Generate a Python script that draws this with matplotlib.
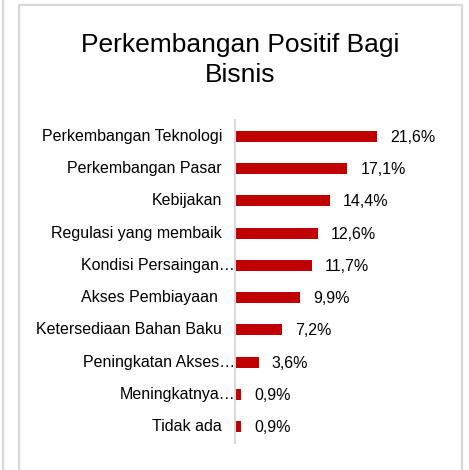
import matplotlib
matplotlib.use("Agg")
import matplotlib.pyplot as plt
from matplotlib.patches import Rectangle
from matplotlib.lines import Line2D

plt.rcParams['font.family'] = ['Liberation Sans', 'DejaVu Sans']

# data, top to bottom
categories = ["Perkembangan Teknologi", "Perkembangan Pasar", "Kebijakan",
              "Regulasi yang membaik", "Kondisi Persaingan\u2026", "Akses Pembiayaan ",
              "Ketersediaan Bahan Baku", "Peningkatan Akses\u2026", "Meningkatnya\u2026",
              "Tidak ada"]
values = [21.6, 17.1, 14.4, 12.6, 11.7, 9.9, 7.2, 3.6, 0.9, 0.9]
value_labels = ["21,6%", "17,1%", "14,4%", "12,6%", "11,7%", "9,9%", "7,2%", "3,6%", "0,9%", "0,9%"]

W, H = 469, 470
fig = plt.figure(figsize=(W / 100, H / 100), dpi=100)
fig.patch.set_facecolor('white')

# chart frame and neighbouring panel edge
fig.add_artist(Rectangle((18.5 / W, -0.05), (461.5 - 18.5) / W, 1.05 - 4.5 / H,
                         transform=fig.transFigure, fill=False,
                         edgecolor='#D9D9D9', linewidth=1.6))
fig.add_artist(Line2D([2.5 / W, 2.5 / W], [0, 1], transform=fig.transFigure,
                      color='#D9D9D9', linewidth=1.6))

fig.text(240 / W, 1 - 45 / H, "Perkembangan Positif Bagi", ha='center', va='center',
         fontsize=19, color='#000000')
fig.text(240 / W, 1 - 75 / H, "Bisnis", ha='center', va='center',
         fontsize=19, color='#000000')

# axes: x from 235 px, 6.57 px per percent
left = 235 / W
top = 1 - 120 / H
bottom = 1 - 443 / H
ax = fig.add_axes([left, bottom, (461 - 235) / W, top - bottom])
xmax = (461 - 235) / 6.57
ax.set_xlim(0, xmax)
n = len(categories)
ax.set_ylim(n - 0.5, -0.5)
pos = list(range(n))
ax.barh(pos, values, height=0.34, color='#C00000')
for y, v, lab in zip(pos, values, value_labels):
    ax.annotate(lab, (v, y), xytext=(13, -1), textcoords='offset pixels',
                ha='left', va='center', fontsize=11.5, color='#000000')
# category labels: truncated ones run up to the axis line
for y, cat in zip(pos, categories):
    gap = 0 if cat.endswith('\u2026') else 13
    ax.annotate(cat, (0, y), xytext=(-gap, 0), textcoords='offset pixels',
                ha='right', va='center', fontsize=11.5, color='#000000',
                annotation_clip=False)
ax.set_yticks([])
ax.set_xticks([])
for s in ['top', 'right', 'bottom']:
    ax.spines[s].set_visible(False)
ax.spines['left'].set_color('#D9D9D9')
ax.spines['left'].set_linewidth(1.5)
ax.patch.set_alpha(0)

fig.savefig("out.png", dpi=100)
